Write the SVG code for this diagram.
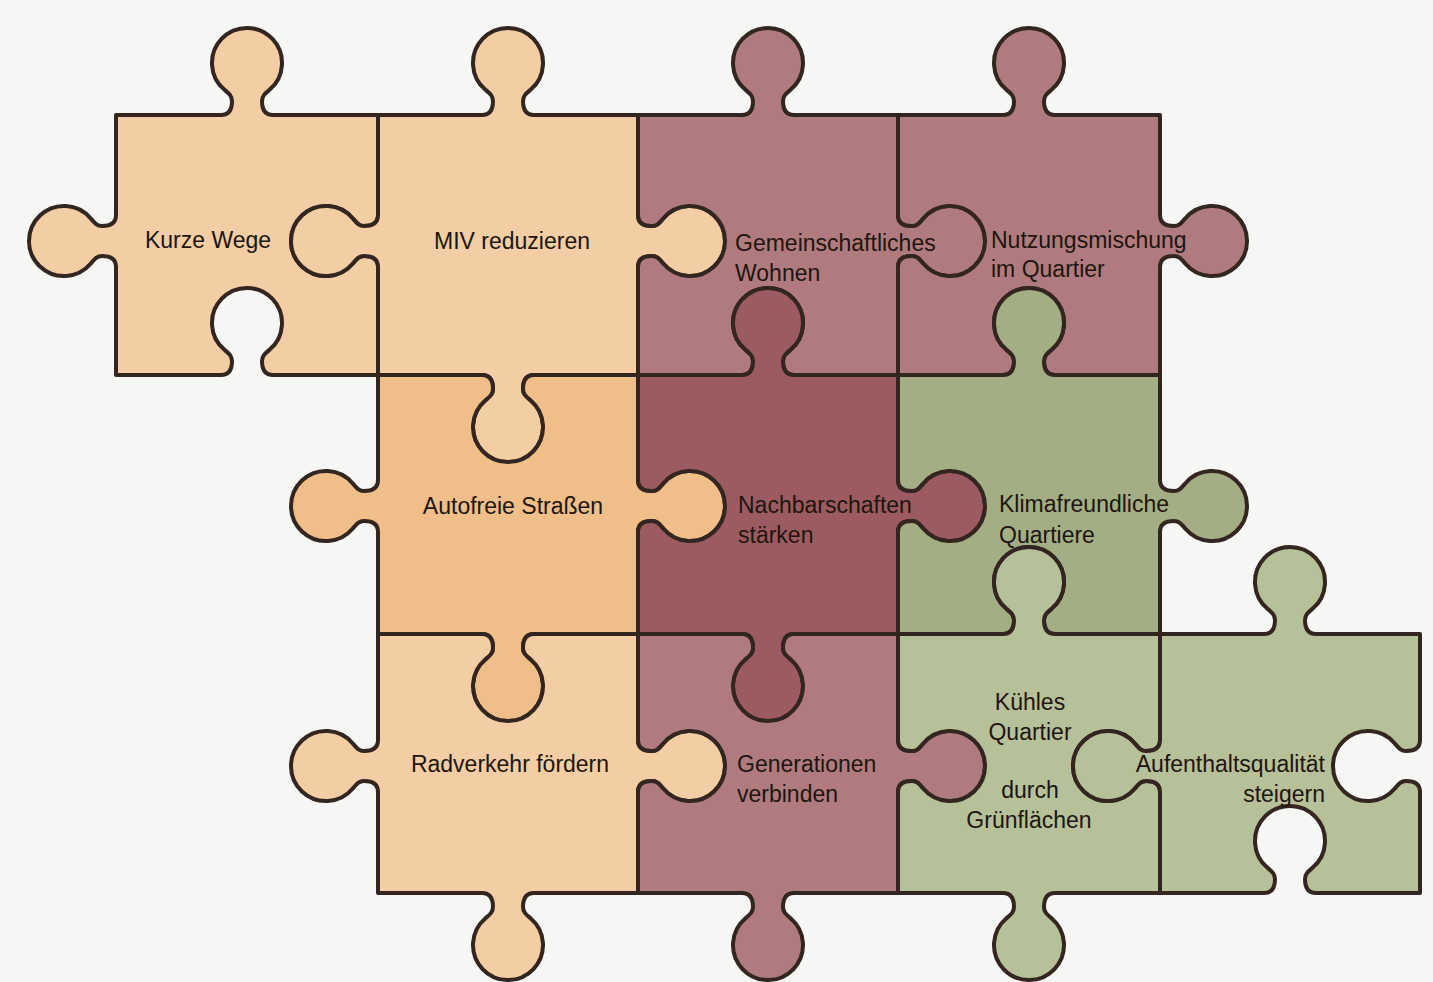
<svg xmlns="http://www.w3.org/2000/svg" width="1433" height="982" viewBox="0 0 1433 982">
<style>
.p{stroke:#33251f;stroke-width:4;stroke-linejoin:round}
.lo{fill:#f3cda3}.or{fill:#efbe89}.mv{fill:#b07b7f}.dr{fill:#9c5b60}.gr{fill:#a3ae85}.lg{fill:#b6c099}
text{font-family:"Liberation Sans",Arial,sans-serif;font-size:23px;fill:#21150f}
.c{text-anchor:middle}.e{text-anchor:end}
</style>
<rect width="1433" height="982" fill="#f6f6f4"/>
<g id="nodes">
<g id="kurze-wege"><path class="p lo" d="M116 115 H221 c8 0 11 -6 11 -14 c0 -5 -2.9 -7.3 -7.5 -11.2 a35 35 0 1 1 45 0 c-4.6 3.9 -7.5 6.2 -7.5 11.2 c0 8 3 14 11 14 H378 V215 c0 8 -6 11 -14 11 c-5 0 -7.3 -2.9 -11.2 -7.5 a35 35 0 1 0 0 45 c3.9 -4.6 6.2 -7.5 11.2 -7.5 c8 0 14 3 14 11 V375 H273 c-8 0 -11 -6 -11 -14 c0 -5 2.9 -7.3 7.5 -11.2 a35 35 0 1 0 -45 0 c4.6 3.9 7.5 6.2 7.5 11.2 c0 8 -3 14 -11 14 H116 V267 c0 -8 -6 -11 -14 -11 c-5 0 -7.3 2.9 -11.2 7.5 a35 35 0 1 1 0 -45 c3.9 4.6 6.2 7.5 11.2 7.5 c8 0 14 -3 14 -11 Z"/><text class="c" x="208" y="248">Kurze Wege</text></g>
<g id="miv-reduzieren"><path class="p lo" d="M378 115 H482 c8 0 11 -6 11 -14 c0 -5 -2.9 -7.3 -7.5 -11.2 a35 35 0 1 1 45 0 c-4.6 3.9 -7.5 6.2 -7.5 11.2 c0 8 3 14 11 14 H638 V215 c0 8 6 11 14 11 c5 0 7.3 -2.9 11.2 -7.5 a35 35 0 1 1 0 45 c-3.9 -4.6 -6.2 -7.5 -11.2 -7.5 c-8 0 -14 3 -14 11 V375 H534 c-8 0 -11 6 -11 14 c0 5 2.9 7.3 7.5 11.2 a35 35 0 1 1 -45 0 c4.6 -3.9 7.5 -6.2 7.5 -11.2 c0 -8 -3 -14 -11 -14 H378 V267 c0 -8 -6 -11 -14 -11 c-5 0 -7.3 2.9 -11.2 7.5 a35 35 0 1 1 0 -45 c3.9 4.6 6.2 7.5 11.2 7.5 c8 0 14 -3 14 -11 Z"/><text class="c" x="512" y="249">MIV reduzieren</text></g>
<g id="gemeinschaftliches-wohnen"><path class="p mv" d="M638 115 H742 c8 0 11 -6 11 -14 c0 -5 -2.9 -7.3 -7.5 -11.2 a35 35 0 1 1 45 0 c-4.6 3.9 -7.5 6.2 -7.5 11.2 c0 8 3 14 11 14 H898 V215 c0 8 6 11 14 11 c5 0 7.3 -2.9 11.2 -7.5 a35 35 0 1 1 0 45 c-3.9 -4.6 -6.2 -7.5 -11.2 -7.5 c-8 0 -14 3 -14 11 V375 H794 c-8 0 -11 -6 -11 -14 c0 -5 2.9 -7.3 7.5 -11.2 a35 35 0 1 0 -45 0 c4.6 3.9 7.5 6.2 7.5 11.2 c0 8 -3 14 -11 14 H638 V267 c0 -8 6 -11 14 -11 c5 0 7.3 2.9 11.2 7.5 a35 35 0 1 0 0 -45 c-3.9 4.6 -6.2 7.5 -11.2 7.5 c-8 0 -14 -3 -14 -11 Z"/><text x="735" y="251">Gemeinschaftliches</text><text x="735" y="281">Wohnen</text></g>
<g id="nutzungsmischung"><path class="p mv" d="M898 115 H1003 c8 0 11 -6 11 -14 c0 -5 -2.9 -7.3 -7.5 -11.2 a35 35 0 1 1 45 0 c-4.6 3.9 -7.5 6.2 -7.5 11.2 c0 8 3 14 11 14 H1160 V215 c0 8 6 11 14 11 c5 0 7.3 -2.9 11.2 -7.5 a35 35 0 1 1 0 45 c-3.9 -4.6 -6.2 -7.5 -11.2 -7.5 c-8 0 -14 3 -14 11 V375 H1055 c-8 0 -11 -6 -11 -14 c0 -5 2.9 -7.3 7.5 -11.2 a35 35 0 1 0 -45 0 c4.6 3.9 7.5 6.2 7.5 11.2 c0 8 -3 14 -11 14 H898 V267 c0 -8 6 -11 14 -11 c5 0 7.3 2.9 11.2 7.5 a35 35 0 1 0 0 -45 c-3.9 4.6 -6.2 7.5 -11.2 7.5 c-8 0 -14 -3 -14 -11 Z"/><text x="991" y="248">Nutzungsmischung</text><text x="991" y="277">im Quartier</text></g>
<g id="autofreie-strassen"><path class="p or" d="M378 375 H482 c8 0 11 6 11 14 c0 5 -2.9 7.3 -7.5 11.2 a35 35 0 1 0 45 0 c-4.6 -3.9 -7.5 -6.2 -7.5 -11.2 c0 -8 3 -14 11 -14 H638 V480 c0 8 6 11 14 11 c5 0 7.3 -2.9 11.2 -7.5 a35 35 0 1 1 0 45 c-3.9 -4.6 -6.2 -7.5 -11.2 -7.5 c-8 0 -14 3 -14 11 V634 H534 c-8 0 -11 6 -11 14 c0 5 2.9 7.3 7.5 11.2 a35 35 0 1 1 -45 0 c4.6 -3.9 7.5 -6.2 7.5 -11.2 c0 -8 -3 -14 -11 -14 H378 V532 c0 -8 -6 -11 -14 -11 c-5 0 -7.3 2.9 -11.2 7.5 a35 35 0 1 1 0 -45 c3.9 4.6 6.2 7.5 11.2 7.5 c8 0 14 -3 14 -11 Z"/><text class="c" x="513" y="514">Autofreie Straßen</text></g>
<g id="nachbarschaften-staerken"><path class="p dr" d="M638 375 H742 c8 0 11 -6 11 -14 c0 -5 -2.9 -7.3 -7.5 -11.2 a35 35 0 1 1 45 0 c-4.6 3.9 -7.5 6.2 -7.5 11.2 c0 8 3 14 11 14 H898 V480 c0 8 6 11 14 11 c5 0 7.3 -2.9 11.2 -7.5 a35 35 0 1 1 0 45 c-3.9 -4.6 -6.2 -7.5 -11.2 -7.5 c-8 0 -14 3 -14 11 V634 H794 c-8 0 -11 6 -11 14 c0 5 2.9 7.3 7.5 11.2 a35 35 0 1 1 -45 0 c4.6 -3.9 7.5 -6.2 7.5 -11.2 c0 -8 -3 -14 -11 -14 H638 V532 c0 -8 6 -11 14 -11 c5 0 7.3 2.9 11.2 7.5 a35 35 0 1 0 0 -45 c-3.9 4.6 -6.2 7.5 -11.2 7.5 c-8 0 -14 -3 -14 -11 Z"/><text x="738" y="513">Nachbarschaften</text><text x="738" y="543">stärken</text></g>
<g id="klimafreundliche-quartiere"><path class="p gr" d="M898 375 H1003 c8 0 11 -6 11 -14 c0 -5 -2.9 -7.3 -7.5 -11.2 a35 35 0 1 1 45 0 c-4.6 3.9 -7.5 6.2 -7.5 11.2 c0 8 3 14 11 14 H1160 V480 c0 8 6 11 14 11 c5 0 7.3 -2.9 11.2 -7.5 a35 35 0 1 1 0 45 c-3.9 -4.6 -6.2 -7.5 -11.2 -7.5 c-8 0 -14 3 -14 11 V634 H1055 c-8 0 -11 -6 -11 -14 c0 -5 2.9 -7.3 7.5 -11.2 a35 35 0 1 0 -45 0 c4.6 3.9 7.5 6.2 7.5 11.2 c0 8 -3 14 -11 14 H898 V532 c0 -8 6 -11 14 -11 c5 0 7.3 2.9 11.2 7.5 a35 35 0 1 0 0 -45 c-3.9 4.6 -6.2 7.5 -11.2 7.5 c-8 0 -14 -3 -14 -11 Z"/><text x="999" y="512">Klimafreundliche</text><text x="999" y="543">Quartiere</text></g>
<g id="radverkehr-foerdern"><path class="p lo" d="M378 634 H482 c8 0 11 6 11 14 c0 5 -2.9 7.3 -7.5 11.2 a35 35 0 1 0 45 0 c-4.6 -3.9 -7.5 -6.2 -7.5 -11.2 c0 -8 3 -14 11 -14 H638 V740 c0 8 6 11 14 11 c5 0 7.3 -2.9 11.2 -7.5 a35 35 0 1 1 0 45 c-3.9 -4.6 -6.2 -7.5 -11.2 -7.5 c-8 0 -14 3 -14 11 V893 H534 c-8 0 -11 6 -11 14 c0 5 2.9 7.3 7.5 11.2 a35 35 0 1 1 -45 0 c4.6 -3.9 7.5 -6.2 7.5 -11.2 c0 -8 -3 -14 -11 -14 H378 V792 c0 -8 -6 -11 -14 -11 c-5 0 -7.3 2.9 -11.2 7.5 a35 35 0 1 1 0 -45 c3.9 4.6 6.2 7.5 11.2 7.5 c8 0 14 -3 14 -11 Z"/><text class="c" x="510" y="772">Radverkehr fördern</text></g>
<g id="generationen-verbinden"><path class="p mv" d="M638 634 H742 c8 0 11 6 11 14 c0 5 -2.9 7.3 -7.5 11.2 a35 35 0 1 0 45 0 c-4.6 -3.9 -7.5 -6.2 -7.5 -11.2 c0 -8 3 -14 11 -14 H898 V740 c0 8 6 11 14 11 c5 0 7.3 -2.9 11.2 -7.5 a35 35 0 1 1 0 45 c-3.9 -4.6 -6.2 -7.5 -11.2 -7.5 c-8 0 -14 3 -14 11 V893 H794 c-8 0 -11 6 -11 14 c0 5 2.9 7.3 7.5 11.2 a35 35 0 1 1 -45 0 c4.6 -3.9 7.5 -6.2 7.5 -11.2 c0 -8 -3 -14 -11 -14 H638 V792 c0 -8 6 -11 14 -11 c5 0 7.3 2.9 11.2 7.5 a35 35 0 1 0 0 -45 c-3.9 4.6 -6.2 7.5 -11.2 7.5 c-8 0 -14 -3 -14 -11 Z"/><text x="737" y="772">Generationen</text><text x="737" y="802">verbinden</text></g>
<g id="kuehles-quartier"><path class="p lg" d="M898 634 H1003 c8 0 11 -6 11 -14 c0 -5 -2.9 -7.3 -7.5 -11.2 a35 35 0 1 1 45 0 c-4.6 3.9 -7.5 6.2 -7.5 11.2 c0 8 3 14 11 14 H1160 V740 c0 8 -6 11 -14 11 c-5 0 -7.3 -2.9 -11.2 -7.5 a35 35 0 1 0 0 45 c3.9 -4.6 6.2 -7.5 11.2 -7.5 c8 0 14 3 14 11 V893 H1055 c-8 0 -11 6 -11 14 c0 5 2.9 7.3 7.5 11.2 a35 35 0 1 1 -45 0 c4.6 -3.9 7.5 -6.2 7.5 -11.2 c0 -8 -3 -14 -11 -14 H898 V792 c0 -8 6 -11 14 -11 c5 0 7.3 2.9 11.2 7.5 a35 35 0 1 0 0 -45 c-3.9 4.6 -6.2 7.5 -11.2 7.5 c-8 0 -14 -3 -14 -11 Z"/><text class="c" x="1030" y="710">Kühles</text><text class="c" x="1030" y="740">Quartier</text><text class="c" x="1030" y="798">durch</text><text class="c" x="1029" y="828">Grünflächen</text></g>
<g id="aufenthaltsqualitaet-steigern"><path class="p lg" d="M1160 634 H1264 c8 0 11 -6 11 -14 c0 -5 -2.9 -7.3 -7.5 -11.2 a35 35 0 1 1 45 0 c-4.6 3.9 -7.5 6.2 -7.5 11.2 c0 8 3 14 11 14 H1420 V740 c0 8 -6 11 -14 11 c-5 0 -7.3 -2.9 -11.2 -7.5 a35 35 0 1 0 0 45 c3.9 -4.6 6.2 -7.5 11.2 -7.5 c8 0 14 3 14 11 V893 H1316 c-8 0 -11 -6 -11 -14 c0 -5 2.9 -7.3 7.5 -11.2 a35 35 0 1 0 -45 0 c4.6 3.9 7.5 6.2 7.5 11.2 c0 8 -3 14 -11 14 H1160 V792 c0 -8 -6 -11 -14 -11 c-5 0 -7.3 2.9 -11.2 7.5 a35 35 0 1 1 0 -45 c3.9 4.6 6.2 7.5 11.2 7.5 c8 0 14 -3 14 -11 Z"/><text class="e" x="1325" y="772">Aufenthaltsqualität</text><text class="e" x="1325" y="802">steigern</text></g>
</g>
<g id="connectors"/>
</svg>
